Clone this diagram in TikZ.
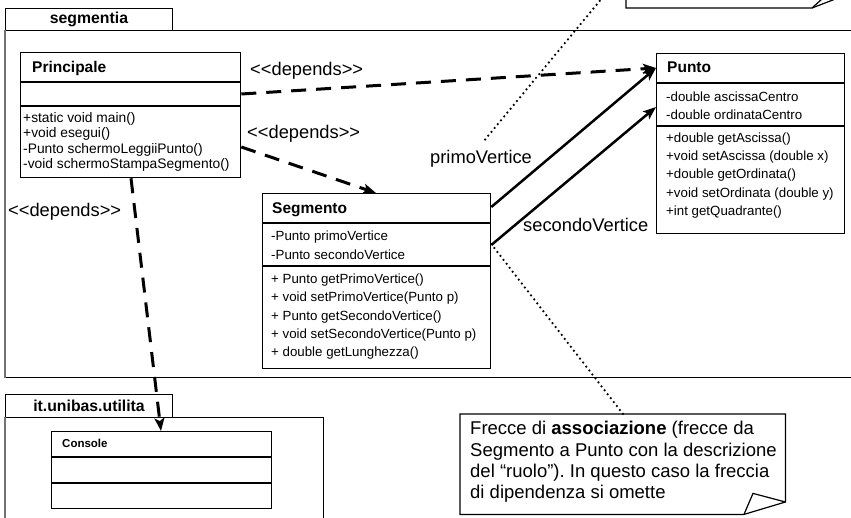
\documentclass[tikz,border=0pt]{standalone}
\usepackage{fontspec}
\setmainfont{Liberation Sans}
\usetikzlibrary{arrows.meta,calc}
\frenchspacing

% UML stereotype written with plain angle brackets (the kerns keep them from
% turning into guillemets)
\newcommand\stereo[1]{<\kern0pt<\kern0pt#1\kern0pt>\kern0pt>}

\begin{document}
\begin{tikzpicture}[x=1pt, y=-1pt,
  box/.style={draw, line width=1.3pt, rectangle, inner sep=0pt, anchor=north west},
  sep/.style={line width=1.1pt},
  pkgtab/.style={draw, line width=1pt, rectangle, inner sep=0pt, anchor=north west,
    font=\fontsize{15.8}{18}\selectfont\bfseries},
  pkgbody/.style={draw, line width=1pt, rectangle, inner sep=0pt, anchor=north west},
  pkgedge/.style={draw=black!55, line width=2pt},
  clsname/.style={anchor=west, inner sep=0pt, font=\fontsize{15.5}{18}\selectfont\bfseries,
    text height=11.5pt, text depth=3.3pt},
  smallname/.style={anchor=west, inner sep=0pt, font=\fontsize{11.5}{14}\selectfont\bfseries,
    text height=8.5pt, text depth=2.4pt},
  member/.style={anchor=west, inner sep=0pt, font=\fontsize{13.3}{15}\selectfont,
    text height=9.8pt, text depth=2.9pt},
  bigmember/.style={member, font=\fontsize{13.8}{15}\selectfont},
  lbl/.style={anchor=west, inner sep=0pt, font=\fontsize{18.3}{21}\selectfont,
    text height=13.4pt, text depth=3.9pt},
  notetext/.style={lbl, font=\fontsize{18.5}{21}\selectfont},
  dep/.style={line width=3pt, dash pattern=on 15pt off 10pt,
    -{Stealth[length=13pt,width=10pt,inset=3pt]}},
  assoc/.style={line width=2.5pt, -{Stealth[length=13pt,width=10pt,inset=3pt]}},
  dotline/.style={line width=2.5pt, dash pattern=on 0pt off 5pt, line cap=round},
  notebox/.style={line width=1.2pt, line join=miter},
]
\useasboundingbox (0,0) rectangle (851,518);
\fill[white] (0,0) rectangle (851,518);
\clip (0,0) rectangle (851,518);

% ---------- packages ----------
\node[pkgbody, minimum width=880pt, minimum height=347pt] (pk1) at (5,30) {};
\node[pkgtab, minimum width=167pt, minimum height=22pt] (pk1-tab) at (5,8) {segmentia};
\draw[pkgedge] (pk1.north west) -- (pk1.south west);

\node[pkgbody, minimum width=318pt, minimum height=130pt] (pk2) at (5,417) {};
\node[pkgtab, minimum width=167pt, minimum height=23pt] (pk2-tab) at (5,394) {it.unibas.utilita};
\draw[pkgedge] (pk2.north west) -- (pk2.south west);

% ---------- class Principale ----------
\node[box, minimum width=220pt, minimum height=125pt] (pr) at (20,52) {};
\draw[sep] ($(pr.north west)+(0,30)$) -- ($(pr.north east)+(0,30)$);
\draw[sep] ($(pr.north west)+(0,54)$) -- ($(pr.north east)+(0,54)$);
\node[clsname] (pr-name) at ($(pr.north west)+(12,16)$) {Principale};
\foreach \m [count=\i] in {{+static void main()}, {+void esegui()},
    {-Punto schermoLeggiiPunto()}, {-void schermoStampaSegmento()}}
  \node[bigmember] (pr-m\i) at ($(pr.north west)+(3,{67+(\i-1)*15.5})$) {\m};

% ---------- class Punto ----------
\node[box, minimum width=188pt, minimum height=180pt] (pu) at (656,53) {};
\draw[sep] ($(pu.north west)+(0,30)$) -- ($(pu.north east)+(0,30)$);
\draw[sep] ($(pu.north west)+(0,73)$) -- ($(pu.north east)+(0,73)$);
\node[clsname] (pu-name) at ($(pu.north west)+(11,15)$) {Punto};
\foreach \m [count=\i] in {{-double ascissaCentro}, {-double ordinataCentro}}
  \node[member] (pu-a\i) at ($(pu.north west)+(10,{45+(\i-1)*18})$) {\m};
\foreach \m [count=\i] in {{+double getAscissa()}, {+void setAscissa (double x)},
    {+double getOrdinata()}, {+void setOrdinata (double y)}, {+int getQuadrante()}}
  \node[member] (pu-m\i) at ($(pu.north west)+(10,{86+(\i-1)*18.2})$) {\m};

% ---------- class Segmento ----------
\node[box, minimum width=228pt, minimum height=175pt] (sg) at (262,193) {};
\draw[sep] ($(sg.north west)+(0,30)$) -- ($(sg.north east)+(0,30)$);
\draw[sep] ($(sg.north west)+(0,73)$) -- ($(sg.north east)+(0,73)$);
\node[clsname] (sg-name) at ($(sg.north west)+(10,16)$) {Segmento};
\foreach \m [count=\i] in {{-Punto primoVertice}, {-Punto secondoVertice}}
  \node[member] (sg-a\i) at ($(sg.north west)+(9,{44.5+(\i-1)*18.5})$) {\m};
\foreach \m [count=\i] in {{+ Punto getPrimoVertice()}, {+ void setPrimoVertice(Punto p)},
    {+ Punto getSecondoVertice()}, {+ void setSecondoVertice(Punto p)},
    {+ double getLunghezza()}}
  \node[member] (sg-m\i) at ($(sg.north west)+(9,{87+(\i-1)*18.3})$) {\m};

% ---------- class Console ----------
\node[box, minimum width=220pt, minimum height=77pt] (co) at (51,431) {};
\draw[sep] ($(co.north west)+(0,26)$) -- ($(co.north east)+(0,26)$);
\draw[sep] ($(co.north west)+(0,52)$) -- ($(co.north east)+(0,52)$);
\node[smallname] (co-name) at ($(co.north west)+(11,13)$) {Console};

% ---------- notes ----------
\coordinate (topnote) at (626,8);
\draw[notebox] ($(topnote)+(0,-20)$) -- (topnote) -- ($(topnote)+(186,0)$) -- ($(topnote)+(212,-10)$);
\draw[notebox] ($(topnote)+(186,0)$) -- ($(topnote)+(196,-9)$);

\node[inner sep=0pt, minimum width=325pt, minimum height=100pt, anchor=north west] (note) at (460,414) {};
\draw[notebox, fill=white] (note.north west) -- (note.north east) -- ($(note.north east)+(0,88)$)
  -- ($(note.south west)+(284,0)$) -- (note.south west) -- cycle;
\draw[notebox] ($(note.south west)+(284,0)$) -- ($(note.south west)+(293,-21)$)
  -- ($(note.north east)+(0,88)$);
\node[notetext] (note-l1) at ($(note.north west)+(10,16)$) {Frecce di \textbf{associazione} (frecce da};
\node[notetext] (note-l2) at ($(note.north west)+(10,37.5)$) {Segmento a Punto con la descrizione};
\node[notetext] (note-l3) at ($(note.north west)+(10,58.5)$) {del “ruolo”). In questo caso la freccia};
\node[notetext] (note-l4) at ($(note.north west)+(10,79.5)$) {di dipendenza si omette};

% ---------- labels ----------
\node[lbl] (dep-lbl1) at (250,71) {\stereo{depends}};
\node[lbl] (dep-lbl2) at (247,134) {\stereo{depends}};
\node[lbl] (dep-lbl3) at (8,212) {\stereo{depends}};
\node[lbl] (role1) at (430,159) {primoVertice};
\node[lbl] (role2) at (523,227) {secondoVertice};

% ---------- connectors ----------
\draw[dep] ($(pr.north east)+(0,42)$) -- ($(pu.north west)+(0,15)$);
\draw[dep] ($(pr.north east)+(0,95)$) -- ($(sg.north west)+(114,0)$);
\draw[dep] ($(pr.south west)+(111,0)$) -- ($(co.north west)+(110,0)$);

\draw[assoc] ($(sg.north east)+(0,14)$) -- ($(pu.north west)+(0,15)$);
\draw[assoc] ($(sg.north east)+(0,52)$) -- ($(pu.north west)+(0,54)$);

\draw[dotline] ($(topnote)+(-23,-11)$) -- ($(role1.north)+(1,-7)$);
\draw[dotline] ($(sg.north east)+(3,55)$) -- ($(note.north west)+(163,0)$);
\end{tikzpicture}
\end{document}
